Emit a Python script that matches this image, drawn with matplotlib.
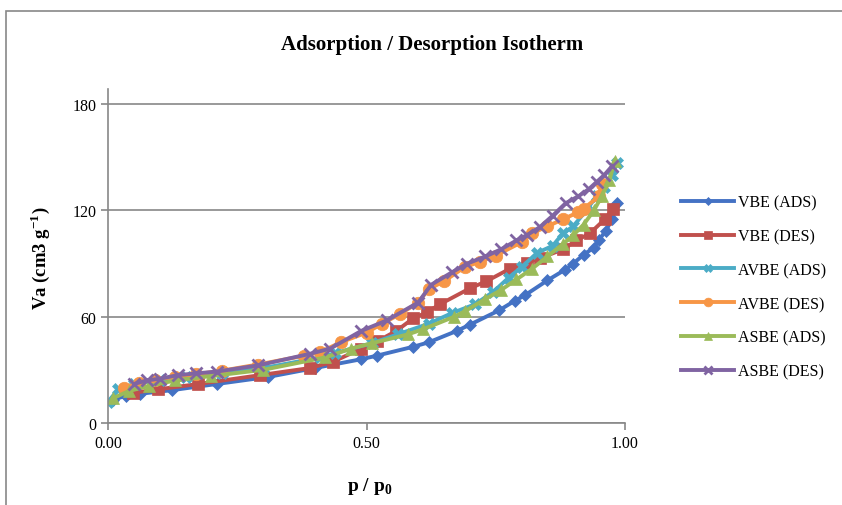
import matplotlib
matplotlib.use('Agg')
import matplotlib.pyplot as plt
from matplotlib.patches import Rectangle

plt.rcParams['font.family'] = ['Liberation Serif', 'DejaVu Serif']
plt.rcParams['mathtext.fontset'] = 'custom'
plt.rcParams['mathtext.rm'] = 'Liberation Serif'
plt.rcParams['mathtext.bf'] = 'Liberation Serif:bold'

# VBE
vbe_ads_x = [0.01, 0.035, 0.062, 0.123, 0.21, 0.31, 0.40, 0.49, 0.52, 0.59, 0.62, 0.675, 0.70,
             0.756, 0.787, 0.806, 0.85, 0.884, 0.90, 0.92, 0.94, 0.95, 0.963, 0.975, 0.984]
vbe_ads_y = [13, 15.5, 16.5, 18.5, 22, 26, 31, 36, 38, 43, 45.5, 52, 55.5,
             63.5, 69, 72, 80.5, 86.5, 90, 95, 99, 103.5, 108.5, 115, 124]
vbe_des_x = [0.048, 0.097, 0.174, 0.294, 0.39, 0.435, 0.49, 0.52, 0.558, 0.59, 0.617, 0.642, 0.70,
             0.732, 0.777, 0.81, 0.836, 0.88, 0.906, 0.932, 0.961, 0.977]
vbe_des_y = [17, 19, 22, 27, 31, 34.5, 42, 46, 52, 59, 62.5, 67, 76,
             80, 87, 90.5, 93, 98, 103, 107, 115, 121]

# AVBE
avbe_ads_x = [0.0, 0.02, 0.05, 0.10, 0.15, 0.22, 0.30, 0.41, 0.44, 0.51, 0.56, 0.62, 0.665,
              0.71, 0.745, 0.775, 0.80, 0.83, 0.86, 0.88, 0.90, 0.925, 0.945, 0.96, 0.975, 0.985]
avbe_ads_y = [12, 19, 22, 24, 26, 28, 31, 37, 39.5, 45, 50, 56, 62,
              67, 74, 82, 88, 96, 100, 107, 111, 120, 128, 133, 140, 147]
avbe_des_x = [0.03, 0.06, 0.09, 0.13, 0.17, 0.22, 0.29, 0.38, 0.41, 0.45, 0.50, 0.53, 0.565,
              0.60, 0.62, 0.65, 0.69, 0.72, 0.75, 0.80, 0.82, 0.85, 0.88, 0.91, 0.92, 0.95, 0.955]
avbe_des_y = [20, 22.5, 24.5, 26, 27.5, 29.5, 33, 38, 40, 45.5, 51, 56, 61.5,
              68, 75.5, 80, 88, 91, 94.5, 102, 107, 111, 115, 119, 121, 128, 135]

# ASBE
asbe_ads_x = [0.01, 0.04, 0.08, 0.13, 0.20, 0.30, 0.42, 0.47, 0.51, 0.58, 0.61, 0.67, 0.69,
              0.73, 0.76, 0.79, 0.82, 0.85, 0.88, 0.90, 0.92, 0.94, 0.955, 0.97, 0.98]
asbe_ads_y = [14, 18, 21, 24, 26.5, 30, 37, 42, 45, 50, 53, 60, 63,
              70, 75, 81, 87, 94, 101, 106, 112, 120, 128, 137, 148]
asbe_des_x = [0.05, 0.075, 0.10, 0.135, 0.17, 0.21, 0.29, 0.39, 0.43, 0.49, 0.54, 0.60, 0.625,
              0.665, 0.695, 0.73, 0.76, 0.79, 0.81, 0.835, 0.86, 0.885, 0.91, 0.93, 0.945, 0.96, 0.975]
asbe_des_y = [22, 24, 25, 27, 28, 29, 32.5, 39, 42, 52, 58, 68, 78,
              85, 90, 94, 98, 103, 106, 110.5, 117, 124, 128, 132, 136, 140, 145]

series = [
    ('VBE (ADS)', vbe_ads_x, vbe_ads_y, '#4472C4', 'D', 6),
    ('VBE (DES)', vbe_des_x, vbe_des_y, '#C0504D', 's', 8),
    ('AVBE (ADS)', avbe_ads_x, avbe_ads_y, '#4BACC6', 'X', 9),
    ('AVBE (DES)', avbe_des_x, avbe_des_y, '#F79646', 'o', 9),
    ('ASBE (ADS)', asbe_ads_x, asbe_ads_y, '#9BBB59', '^', 9),
    ('ASBE (DES)', asbe_des_x, asbe_des_y, '#8064A2', 'x', 9),
]

fig = plt.figure(figsize=(8.42, 5.06), dpi=100)
fig.patches.append(Rectangle((6 / 842, -0.1), 1.2, 1 - 12 / 506 + 0.1, transform=fig.transFigure,
                             fill=False, edgecolor='#888888', linewidth=1.2))
ax = fig.add_axes([108 / 842, 1 - 424 / 506, 517 / 842, (424 - 90) / 506])

for label, xs, ys, color, marker, ms in series:
    ax.plot(xs, ys, color=color, marker=marker, markersize=ms, linewidth=2.8,
            markeredgewidth=2 if marker == 'x' else 0.5, markeredgecolor=color, label=label)

ax.set_xlim(0, 1.0)
ax.set_ylim(0, 188.5)
ax.set_xticks([0, 0.5, 1.0])
ax.set_xticklabels(['0.00', '0.50', '1.00'])
ax.set_yticks([0, 60, 120, 180])
ax.yaxis.grid(True, color='#888888', linewidth=1.2)
ax.set_axisbelow(True)
for s in ['top', 'right']:
    ax.spines[s].set_visible(False)
for s in ['left', 'bottom']:
    ax.spines[s].set_color('#888888')
    ax.spines[s].set_linewidth(1.2)
ax.tick_params(axis='both', colors='#888888', labelcolor='black', labelsize=11.5, length=5, width=1.2)
ax.tick_params(axis='x', pad=4)

fig.text(432 / 842, 1 - 45 / 506, 'Adsorption / Desorption Isotherm', ha='center', va='center',
         fontsize=15, fontweight='bold')
fig.text(370 / 842, 1 - 487 / 506, r'p / p$_\mathbf{0}$', ha='center', va='center',
         fontsize=14, fontweight='bold')
fig.text(40 / 842, 1 - 258 / 506, r'Va (cm3 g$^{\mathbf{-1}}$)', ha='center', va='center',
         fontsize=13.5, fontweight='bold', rotation=90)

ax.legend(loc='center left', bbox_to_anchor=(667 / 842, 1 - 288 / 506), bbox_transform=fig.transFigure,
          frameon=False, fontsize=11.5, labelspacing=1.12, handlelength=3.3, markerscale=0.7,
          handletextpad=0.25)

fig.savefig('out.png', dpi=100)
